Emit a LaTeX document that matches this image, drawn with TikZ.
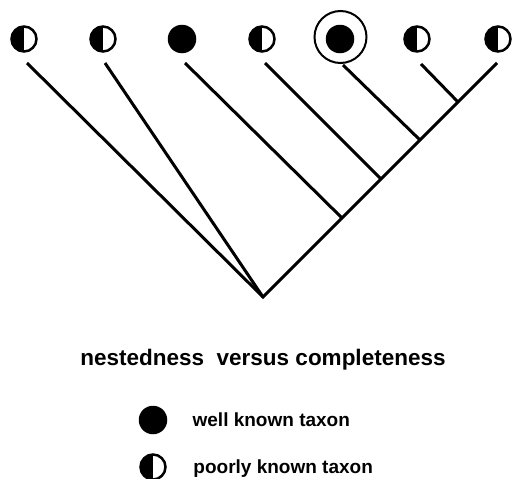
\documentclass[tikz,border=0pt]{standalone}
\usepackage{fontspec}
\setmainfont{Liberation Sans}
\usetikzlibrary{positioning}
\tikzset{
  taxon/.style={circle, inner sep=0pt},
  well/.style={taxon, fill=black, minimum size=28.5pt},
  poor/.style={taxon, draw, line width=2.5pt, minimum size=25pt,
    path picture={\fill (path picture bounding box.north west) rectangle (path picture bounding box.south);}},
  branch/.style={line width=3pt},
  legendtext/.style={font=\fontsize{19}{22}\selectfont\bfseries, inner sep=0pt, text height=13.7pt, text depth=0pt}
}
\begin{document}
\begin{tikzpicture}[x=1pt,y=-1pt]
	\useasboundingbox (0,0) rectangle (514,479);
	% leaves
	\foreach \i/\x/\s in {1/24/poor,2/103/poor,3/182/well,4/262/poor,5/340/well,6/417/poor,7/498/poor}{
	\node[\s] (P\i) at (\x,39) {};
	}
	\node[circle, draw, line width=2pt, minimum size=52pt] (ring) at (340.5,37) {};

	% branch ends and joints
	\foreach \i/\x/\y in {1/27/63,2/105/63,3/185/63,4/265/63,5/343/65,6/421/64,7/497/63}{
	\coordinate (T\i) at (\x,\y);
	}
	\coordinate (root) at (263,297);
	\coordinate (J1) at (342,218);
	\coordinate (J2) at (381,179);
	\coordinate (J3) at (420,140);
	\coordinate (J4) at (458,102);

	\draw[branch] (T1) -- (root) -- (T7);
	\draw[branch] (T2) -- (root);
	\draw[branch] (T3) -- (J1);
	\draw[branch] (T4) -- (J2);
	\draw[branch] (T5) -- (J3);
	\draw[branch] (T6) -- (J4);

	\node[font=\fontsize{22.5}{27}\selectfont\bfseries, anchor=base] (title) at (263,365) {nestedness\ \ versus completeness};

	% legend
	\node[well] (L1) at (153,420) {};
	\node[poor] (L2) at (153,467) {};
	\node[legendtext, right=25pt of L1] (wk) {well known taxon};
	\node[legendtext, right=26.5pt of L2] (pk) {poorly known taxon};
\end{tikzpicture}
\end{document}
